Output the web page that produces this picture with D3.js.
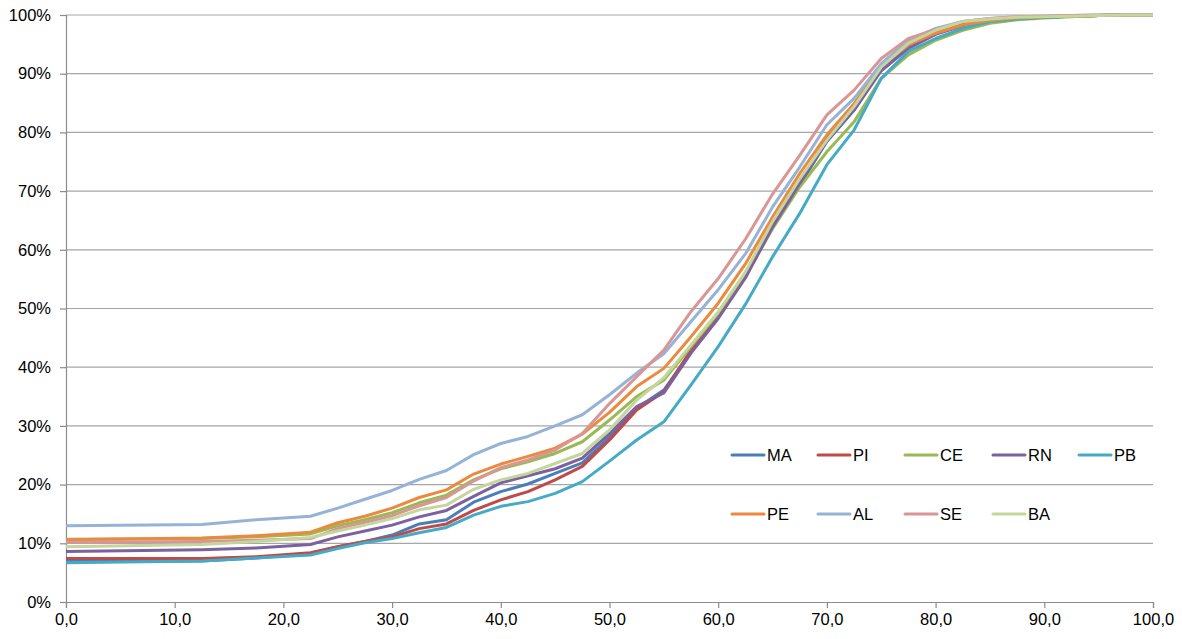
<!DOCTYPE html>
<html>
<head>
<meta charset="utf-8">
<style>
  body {
    margin: 0;
    background-color: #ffffff;
  }

  .tick text, .legend text {
    font-family: "Liberation Sans", Arial, sans-serif;
    font-size: 16.5px;
    fill: #000000;
  }
</style>
<script src="https://d3js.org/d3.v7.min.js"></script>
</head>
<body>
<script>
  // x positions of the data points
  const xs = [0, 12.5, 17.5, 22.5, 25, 27.5, 30, 32.5, 35, 37.5, 40, 42.5, 45, 47.5, 50, 52.5, 55, 57.5,
    60, 62.5, 65, 67.5, 70, 72.5, 75, 77.5, 80, 82.5, 85, 87.5, 90, 92.5, 95, 97.5, 100];

  const names = ['MA', 'PI', 'CE', 'RN', 'PB', 'PE', 'AL', 'SE', 'BA'];

  // cumulative share, in percent
  const ma = [6.9, 7.0, 7.5, 8.3, 9.4, 10.3, 11.4, 13.3, 14.0, 17.0, 18.8, 20.1, 21.9, 23.7, 28.1, 33.0, 36.1, 42.6,
    48.9, 55.6, 64.0, 71.0, 78.5, 83.8, 90.7, 94.6, 96.8, 98.2, 99.0, 99.4, 99.6, 99.8, 99.9, 100, 100];
  const pi = [7.4, 7.4, 7.7, 8.4, 9.4, 10.3, 11.1, 12.5, 13.3, 15.6, 17.4, 18.8, 20.8, 23.1, 27.6, 32.7, 35.8, 42.9,
    49.2, 56.0, 64.5, 71.6, 79.0, 84.5, 91.0, 95.5, 97.2, 98.5, 99.2, 99.5, 99.7, 99.8, 99.9, 100, 100];
  const ce = [10.7, 10.8, 11.1, 11.6, 13.0, 14.0, 15.2, 16.9, 18.2, 20.8, 22.7, 23.9, 25.3, 27.3, 31.0, 35.0, 37.8, 43.5,
    49.2, 55.5, 63.6, 70.7, 76.7, 81.8, 89.2, 93.2, 95.7, 97.4, 98.6, 99.2, 99.5, 99.7, 99.9, 100, 100];
  const rn = [8.6, 8.9, 9.2, 9.8, 11.1, 12.1, 13.1, 14.5, 15.6, 18.0, 20.3, 21.5, 22.7, 24.5, 28.7, 33.3, 35.6, 42.4,
    48.3, 55.2, 63.9, 71.3, 78.5, 83.8, 90.5, 94.3, 96.7, 98.2, 99.0, 99.4, 99.6, 99.8, 99.9, 100, 100];
  const pb = [6.7, 7.0, 7.5, 8.0, 9.1, 10.1, 10.8, 11.8, 12.7, 14.8, 16.3, 17.1, 18.5, 20.5, 24.0, 27.6, 30.7, 37.0,
    43.5, 50.7, 58.8, 66.2, 74.5, 80.4, 89.2, 93.8, 96.0, 97.7, 98.9, 99.3, 99.6, 99.8, 99.9, 100, 100];
  const pe = [10.6, 10.9, 11.3, 11.9, 13.5, 14.6, 16.0, 17.8, 19.1, 21.8, 23.5, 24.8, 26.2, 28.6, 32.3, 36.7, 39.8, 45.2,
    50.9, 57.6, 65.6, 73.0, 79.6, 84.9, 91.4, 94.9, 96.9, 98.3, 99.1, 99.5, 99.7, 99.8, 99.9, 100, 100];
  const al = [13.0, 13.2, 14.0, 14.6, 16.0, 17.5, 19.0, 20.9, 22.4, 25.1, 27.0, 28.2, 30.0, 31.9, 35.3, 39.0, 42.3, 47.8,
    53.2, 59.3, 67.3, 74.1, 81.3, 85.8, 91.7, 95.7, 97.7, 98.9, 99.4, 99.7, 99.8, 99.9, 100, 100, 100];
  const se = [10.2, 10.3, 10.5, 10.8, 12.5, 13.6, 14.7, 16.4, 17.8, 20.6, 22.9, 24.2, 25.9, 28.7, 33.8, 38.4, 42.9, 49.5,
    55.1, 61.8, 69.5, 76.1, 83.0, 87.2, 92.6, 96.0, 97.5, 98.9, 99.4, 99.7, 99.8, 99.9, 100, 100, 100];
  const ba = [9.4, 9.8, 10.3, 11.0, 12.1, 13.1, 14.2, 15.7, 16.5, 19.2, 20.8, 21.9, 23.6, 25.3, 29.3, 34.4, 38.2, 43.8,
    49.4, 56.2, 64.8, 72.1, 78.7, 84.4, 91.1, 95.2, 97.4, 98.9, 99.3, 99.6, 99.7, 99.8, 99.9, 100, 100];

  const xTicks = [0, 10, 20, 30, 40, 50, 60, 70, 80, 90, 100];
  const yTicks = [0, 10, 20, 30, 40, 50, 60, 70, 80, 90, 100];

  const colors = ['#4A7EBB', '#BE4B48', '#98B954', '#7D60A0', '#46AAC5', '#EB8A3E', '#95B3D7', '#D99694', '#C3D69B'];

  const allValues = [ma, pi, ce, rn, pb, pe, al, se, ba];
  const series = names.map((name, i) => ({
    name: name,
    color: colors[i],
    points: xs.map((x, j) => ({ x: x, y: allValues[i][j] })),
  }));

  const width = 1182;
  const height = 639;
  const margin = { top: 15, right: 29, bottom: 37, left: 66 };

  const svg = d3.select('body')
    .append('svg')
    .attr('width', width)
    .attr('height', height);

  const x = d3.scaleLinear()
    .domain([0, 100])
    .range([margin.left, width - margin.right]);

  const y = d3.scaleLinear()
    .domain([0, 100])
    .range([height - margin.bottom, margin.top]);

  // horizontal grid lines
  svg.append('g')
    .selectAll('line')
    .data(yTicks.slice(1))
    .join('line')
    .attr('x1', x(0))
    .attr('x2', x(100))
    .attr('y1', d => y(d))
    .attr('y2', d => y(d))
    .attr('stroke', '#a6a6a6')
    .attr('stroke-width', 1.2);

  const fmtX = d => d3.format('.1f')(d).replace('.', ',');

  const xAxis = svg.append('g')
    .attr('transform', `translate(0,${y(0)})`)
    .call(d3.axisBottom(x).tickValues(xTicks).tickFormat(fmtX).tickSize(6).tickPadding(5));

  const yAxis = svg.append('g')
    .attr('transform', `translate(${x(0)},0)`)
    .call(d3.axisLeft(y).tickValues(yTicks).tickFormat(d => d + '%').tickSize(6).tickPadding(9));

  [xAxis, yAxis].forEach(g => {
    g.attr('font-family', null).attr('font-size', null);
    g.select('.domain').attr('stroke', '#8c8c8c').attr('stroke-width', 1.2);
    g.selectAll('.tick line').attr('stroke', '#8c8c8c').attr('stroke-width', 1.2);
    g.selectAll('.tick text').attr('fill', null);
  });

  const line = d3.line()
    .x(d => x(d.x))
    .y(d => y(d.y));

  svg.append('g')
    .selectAll('path')
    .data(series)
    .join('path')
    .attr('d', d => line(d.points))
    .attr('fill', 'none')
    .attr('stroke', d => d.color)
    .attr('stroke-width', 3)
    .attr('stroke-linejoin', 'round');

  // legend, two rows
  const legend = svg.append('g').attr('class', 'legend');
  const colX = [732, 818, 905, 993, 1079];
  const rowY = [455, 514];

  series.forEach((s, i) => {
    const row = Math.floor(i / 5);
    const col = i % 5;
    const g = legend.append('g')
      .attr('transform', `translate(${colX[col]},${rowY[row]})`);
    g.append('line')
      .attr('x1', 0)
      .attr('x2', 32)
      .attr('stroke', s.color)
      .attr('stroke-width', 3)
      .attr('stroke-linecap', 'round');
    g.append('text')
      .attr('x', 35)
      .attr('dy', '0.36em')
      .text(s.name);
  });
</script>
</body>
</html>
